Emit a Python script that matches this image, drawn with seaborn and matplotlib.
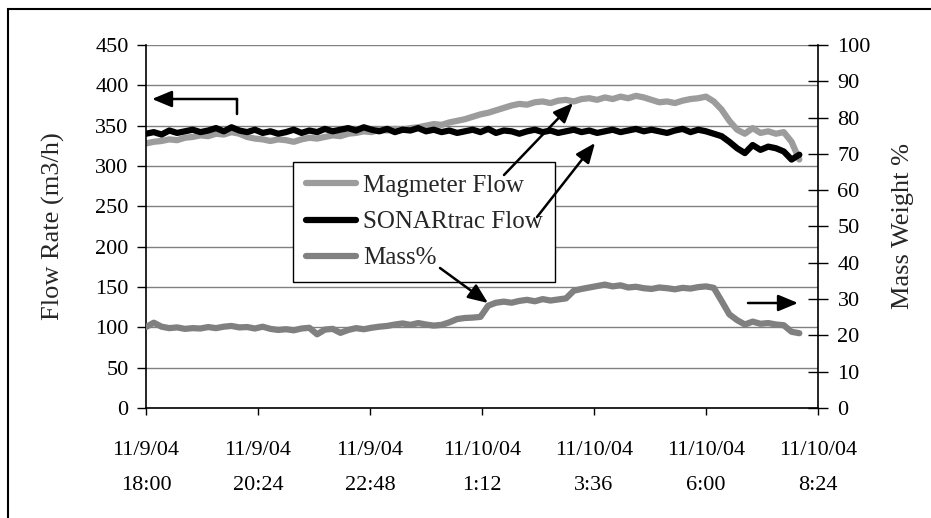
import pandas as pd
import matplotlib.pyplot as plt
import seaborn as sns
from matplotlib.patches import Rectangle

# readings every 10 minutes, 11/9/04 18:00 -> 11/10/04 8:00
times = pd.date_range('2004-11-09 18:00', periods=85, freq='10min')

magmeter = [328,
            330, 331, 333, 332, 335,
            336, 338, 337, 340, 339, 342,
            340, 336, 334, 333, 331, 333,
            332, 330, 333, 335, 334, 336,
            338, 337, 340, 341, 343, 342,
            345, 344, 346, 345, 347, 348,
            350, 352, 351, 354, 356, 358,
            361, 364, 366, 369, 372, 375,
            377, 376, 379, 380, 378, 381,
            382, 380, 383, 384, 382, 385,
            383, 386, 384, 387, 385, 382,
            379, 380, 378, 381, 383, 384,
            386, 380, 370, 356, 345, 340,
            347, 341, 343, 340, 342, 330, 308]

sonartrac = [340,
             342, 339, 344, 341, 343,
             345, 342, 344, 347, 343, 348,
             344, 342, 345, 341, 343, 340,
             342, 345, 341, 344, 342, 346,
             343, 345, 347, 344, 348, 345,
             343, 346, 342, 345, 344, 347,
             343, 345, 342, 344, 341, 343,
             345, 342, 346, 341, 344, 343,
             340, 343, 345, 342, 344, 341,
             343, 345, 342, 344, 341, 343,
             345, 342, 344, 346, 343, 345,
             343, 341, 344, 346, 342, 345,
             343, 340, 337, 330, 322, 316,
             326, 320, 324, 322, 318, 308, 314]

mass_pct = [22.3,
            23.5, 22.4, 22.0, 22.2, 21.8,
            22.0, 21.9, 22.3, 22.0, 22.4, 22.6,
            22.2, 22.3, 21.9, 22.4, 21.8, 21.5,
            21.7, 21.4, 21.9, 22.1, 20.3, 21.6,
            21.8, 20.7, 21.5, 22.0, 21.7, 22.1,
            22.4, 22.6, 23.0, 23.3, 22.9, 23.4,
            23.0, 22.7, 22.9, 23.6, 24.5, 24.8,
            24.9, 25.1, 28.2, 29.0, 29.3, 29.0,
            29.5, 29.8, 29.4, 30.0, 29.6, 29.9,
            30.2, 32.3, 32.8, 33.2, 33.6, 34.0,
            33.5, 33.8, 33.2, 33.4, 33.0, 32.8,
            33.2, 33.0, 32.7, 33.1, 32.9, 33.3,
            33.5, 33.1, 29.5, 25.8, 24.2, 23.0,
            23.8, 23.2, 23.4, 23.0, 22.8, 21.0, 20.6]

tick_times = pd.date_range('2004-11-09 18:00', periods=7, freq='144min')
tick_labels = ['11/9/04\n18:00', '11/9/04\n20:24', '11/9/04\n22:48',
               '11/10/04\n1:12', '11/10/04\n3:36', '11/10/04\n6:00',
               '11/10/04\n8:24']

sns.set_style('white')
plt.rcParams['font.family'] = ['Liberation Serif', 'DejaVu Serif']

fig = plt.figure(figsize=(9.31, 5.18), dpi=100)
ax = fig.add_axes([146 / 931, 110 / 518, 672 / 931, 363 / 518])

sns.lineplot(x=times, y=magmeter, ax=ax, color='#9c9c9c', lw=4.5,
             label='Magmeter Flow')
sns.lineplot(x=times, y=sonartrac, ax=ax, color='black', lw=4.5,
             label='SONARtrac Flow')
if ax.get_legend():
    ax.get_legend().remove()

ax2 = ax.twinx()
sns.lineplot(x=times, y=mass_pct, ax=ax2, color='#808080', lw=4.5,
             label='Mass%')
if ax2.get_legend():
    ax2.get_legend().remove()

# axes
ax.set_xlim(tick_times[0], tick_times[-1])
ax.set_ylim(0, 450)
ax.set_yticks(range(0, 451, 50))
ax2.set_ylim(0, 100)
ax2.set_yticks(range(0, 101, 10))
ax.set_xticks(tick_times, labels=tick_labels)
for lab in ax.get_xticklabels():
    lab.set_linespacing(2.1)

ax.yaxis.grid(True, color='#808080', lw=1)
ax.xaxis.grid(False)
ax2.grid(False)

for a in (ax, ax2):
    a.spines['top'].set_visible(False)
    for s in a.spines.values():
        s.set_color('black')
        s.set_linewidth(1.2)
ax.spines['right'].set_visible(False)
ax2.spines['left'].set_visible(False)
ax2.spines['bottom'].set_visible(False)

ax.tick_params(axis='y', left=True, direction='out', length=6.5, width=1,
               pad=6, labelsize=16, colors='black')
ax.tick_params(axis='x', bottom=True, direction='out', length=5, width=1,
               pad=19, labelsize=16, colors='black')
ax2.tick_params(axis='y', right=True, direction='inout', length=14, width=1,
                pad=7, labelsize=16, colors='black')

ax.set_xlabel('')
ax.set_ylabel('Flow Rate (m3/h)', fontsize=19, labelpad=22)
ax2.set_ylabel('Mass Weight %', fontsize=19, labelpad=15)

# legend
h1, l1 = ax.get_legend_handles_labels()
h2, l2 = ax2.get_legend_handles_labels()
leg = ax2.legend(h1 + h2, l1 + l2, loc='upper left',
                 bbox_to_anchor=(293 / 931, 1 - 162 / 518),
                 bbox_transform=fig.transFigure, borderaxespad=0,
                 fontsize=18, handlelength=2.0, handletextpad=0.3,
                 labelspacing=0.55, borderpad=0.5, fancybox=False,
                 framealpha=1, edgecolor='black')
leg.get_frame().set_linewidth(1)

# arrows (figure pixel coords, y from bottom), drawn over the legend
H = 518
arrow = dict(arrowstyle='-|>,head_length=0.6,head_width=0.25',
             color='black', lw=1.8, mutation_scale=20, shrinkA=0, shrinkB=0)


def draw_arrow(tail, head, style=arrow):
    ax2.annotate('', xy=(head[0], H - head[1]), xytext=(tail[0], H - tail[1]),
                 xycoords='figure pixels', textcoords='figure pixels',
                 arrowprops=style, annotation_clip=False, zorder=10)


draw_arrow((237, 99), (152, 99))
draw_arrow((237, 114), (237, 99),
           dict(arrowstyle='-', color='black', lw=1.8, shrinkA=0, shrinkB=0))
draw_arrow((748, 303), (798, 303))
draw_arrow((504, 175), (573, 103))
draw_arrow((537, 217), (595, 143))
draw_arrow((440, 268), (488, 303))

# outer border
fig.add_artist(Rectangle((8 / 931, -0.05), 1.0, 1 - 9 / 518 + 0.05,
                         transform=fig.transFigure, fill=False,
                         edgecolor='black', lw=1.5))

fig.savefig('out.png', dpi=100)
